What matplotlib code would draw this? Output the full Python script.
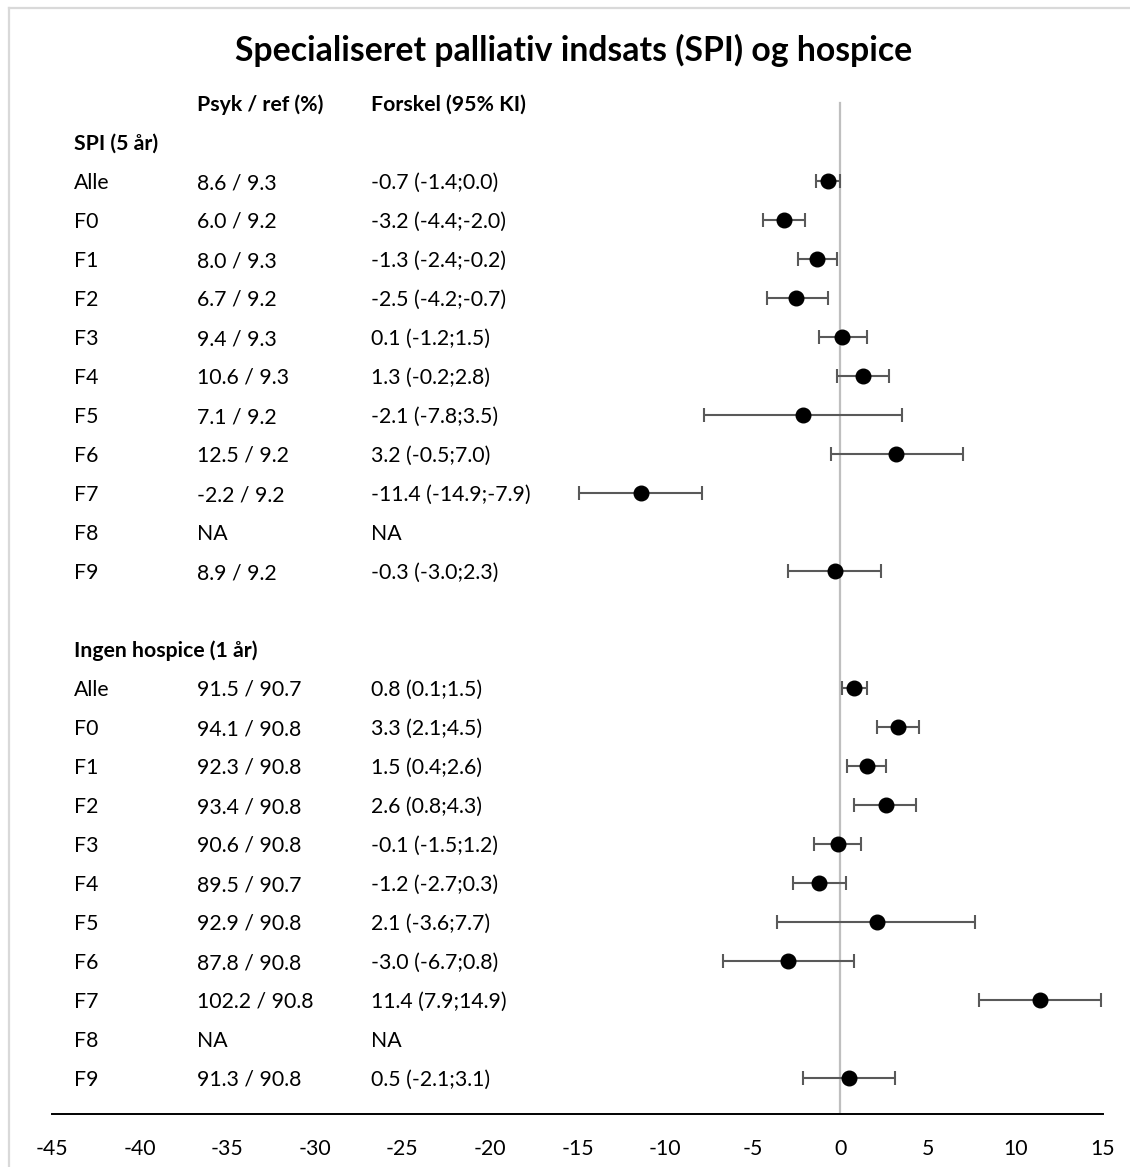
import numpy as np
import matplotlib
matplotlib.use('Agg')
import matplotlib.pyplot as plt
from matplotlib.lines import Line2D

plt.rcParams['font.family'] = ['Lato', 'DejaVu Sans']

groups = ['Alle', 'F0', 'F1', 'F2', 'F3', 'F4', 'F5', 'F6', 'F7', 'F8', 'F9']

spi_ratio = ['8.6 / 9.3', '6.0 / 9.2', '8.0 / 9.3', '6.7 / 9.2', '9.4 / 9.3', '10.6 / 9.3',
             '7.1 / 9.2', '12.5 / 9.2', '-2.2 / 9.2', 'NA', '8.9 / 9.2']
spi_diff = [-0.7, -3.2, -1.3, -2.5, 0.1, 1.3, -2.1, 3.2, -11.4, np.nan, -0.3]
spi_lo = [-1.4, -4.4, -2.4, -4.2, -1.2, -0.2, -7.8, -0.5, -14.9, np.nan, -3.0]
spi_hi = [0.0, -2.0, -0.2, -0.7, 1.5, 2.8, 3.5, 7.0, -7.9, np.nan, 2.3]

hos_ratio = ['91.5 / 90.7', '94.1 / 90.8', '92.3 / 90.8', '93.4 / 90.8', '90.6 / 90.8', '89.5 / 90.7',
             '92.9 / 90.8', '87.8 / 90.8', '102.2 / 90.8', 'NA', '91.3 / 90.8']
hos_diff = [0.8, 3.3, 1.5, 2.6, -0.1, -1.2, 2.1, -3.0, 11.4, np.nan, 0.5]
hos_lo = [0.1, 2.1, 0.4, 0.8, -1.5, -2.7, -3.6, -6.7, 7.9, np.nan, -2.1]
hos_hi = [1.5, 4.5, 2.6, 4.3, 1.2, 0.3, 7.7, 0.8, 14.9, np.nan, 3.1]

W, H = 1130, 1167
fig = plt.figure(figsize=(W / 100, H / 100), dpi=100)

# axes: x -45..15 spans px 52..1103, rows 39 px apart, row 0 at px 103
top_px, bot_px = 83.5, 1114
ax = fig.add_axes([52 / W, 1 - bot_px / H, 1051 / W, (bot_px - top_px) / H])
ax.set_xlim(-45, 15)
ax.set_ylim((bot_px - 103) / 39, (top_px - 103) / 39)

fs = 15.3
col_name, col_ratio, col_diff = -43.75, -36.75, -26.8


def fmt_diff(d, lo, hi):
    if np.isnan(d):
        return 'NA'
    return f'{d:.1f} ({lo:.1f};{hi:.1f})'


# vertical reference line at 0
ax.plot([0, 0], [0, ax.get_ylim()[0]], color='#BFBFBF', lw=1.6, zorder=1)

va = 'center_baseline'
ax.text(col_ratio, 0, 'Psyk / ref (%)', fontsize=fs, fontweight='bold', va=va)
ax.text(col_diff, 0, 'Forskel (95% KI)', fontsize=fs, fontweight='bold', va=va)

sections = [
    ('SPI (5 år)', 1, spi_ratio, spi_diff, spi_lo, spi_hi),
    ('Ingen hospice (1 år)', 14, hos_ratio, hos_diff, hos_lo, hos_hi),
]
for title, start, ratio, diff, lo, hi in sections:
    ax.text(col_name, start, title, fontsize=fs, fontweight='bold', va=va)
    rows = start + 1 + np.arange(len(groups))
    d = np.array(diff)
    l = np.array(lo)
    h = np.array(hi)
    for r, g, rt, dv, lv, hv in zip(rows, groups, ratio, d, l, h):
        ax.text(col_name, r, g, fontsize=fs, va=va)
        ax.text(col_ratio, r, rt, fontsize=fs, va=va)
        ax.text(col_diff, r, fmt_diff(dv, lv, hv), fontsize=fs, va=va)
    ok = ~np.isnan(d)
    ax.errorbar(d[ok], rows[ok], xerr=[d[ok] - l[ok], h[ok] - d[ok]], fmt='none',
                ecolor='#595959', elinewidth=1.5, capsize=5, capthick=1.5, zorder=2)
    ax.plot(d[ok], rows[ok], 'o', color='black', ms=10.5, zorder=3)

ax.set_xticks(np.arange(-45, 16, 5))
ax.set_xticklabels([str(v) for v in range(-45, 16, 5)], fontsize=fs)
ax.tick_params(axis='x', length=0, pad=18)
ax.set_yticks([])
for s in ['top', 'left', 'right']:
    ax.spines[s].set_visible(False)
ax.spines['bottom'].set_linewidth(1.4)
ax.spines['bottom'].set_color('black')

fig.text(574 / W, 1 - 50 / H, 'Specialiseret palliativ indsats (SPI) og hospice',
         fontsize=24.3, fontweight='bold', ha='center', va='center')

# light chart border (top and left edges visible)
fig.add_artist(Line2D([8.5 / W, 1.0], [1 - 7.5 / H, 1 - 7.5 / H], color='#D9D9D9', lw=1.6,
                      transform=fig.transFigure))
fig.add_artist(Line2D([8.5 / W, 8.5 / W], [0, 1 - 7.5 / H], color='#D9D9D9', lw=1.6,
                      transform=fig.transFigure))

fig.savefig('out.png', dpi=100, facecolor='white')
